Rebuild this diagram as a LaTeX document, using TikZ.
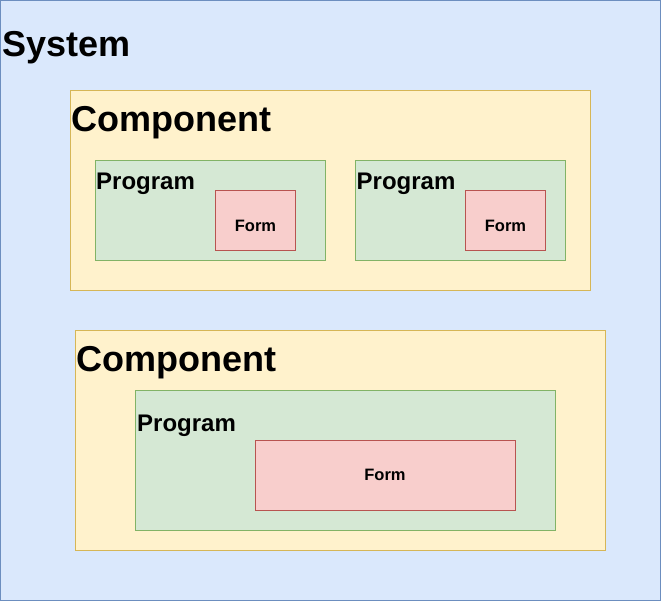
\documentclass[tikz,border=0pt]{standalone}
\usepackage{fontspec}
\setmainfont{Liberation Sans}
\definecolor{sysfill}{HTML}{DAE8FC}
\definecolor{sysline}{HTML}{6C8EBF}
\definecolor{compfill}{HTML}{FFF2CC}
\definecolor{compline}{HTML}{D6B656}
\definecolor{progfill}{HTML}{D5E8D4}
\definecolor{progline}{HTML}{82B366}
\definecolor{formfill}{HTML}{F8CECC}
\definecolor{formline}{HTML}{B85450}
\tikzset{
  box/.style={draw, line width=1pt, inner sep=0pt, outer sep=0pt, anchor=north west},
  sysbox/.style={box, fill=sysfill, draw=sysline},
  compbox/.style={box, fill=compfill, draw=compline},
  progbox/.style={box, fill=progfill, draw=progline},
  formbox/.style={box, fill=formfill, draw=formline},
  ttl/.style={inner sep=0pt, anchor=base west, font=\bfseries},
  systxt/.style={ttl, font=\fontsize{36}{40}\selectfont\bfseries},
  comptxt/.style={ttl, font=\fontsize{36}{40}\selectfont\bfseries},
  progtxt/.style={ttl, font=\fontsize{24}{28}\selectfont\bfseries},
  formtxt/.style={inner sep=0pt, anchor=base, font=\fontsize{16.5}{19}\selectfont\bfseries},
}
\begin{document}
\begin{tikzpicture}[x=1pt,y=-1pt]
\useasboundingbox (0,0) rectangle (662,602);
\node[sysbox, minimum width=660pt, minimum height=600pt] (sys) at (0.5,0.5) {};
\node[systxt] (systxt) at (2,57) {System};
% Component 1
\node[compbox, minimum width=520pt, minimum height=200pt] (c1) at (70.5,90.5) {};
\node[comptxt] (c1txt) at (71.5,131.5) {Component};
\node[progbox, minimum width=230pt, minimum height=100pt] (p1) at (95.5,160.5) {};
\node[progtxt] (p1txt) at (96,189) {Program};
\node[formbox, minimum width=80pt, minimum height=60pt] (f1) at (215.5,190.5) {};
\node[formtxt] (f1txt) at (255.5,231) {Form};
\node[progbox, minimum width=210pt, minimum height=100pt] (p2) at (355.5,160.5) {};
\node[progtxt] (p2txt) at (356.5,189) {Program};
\node[formbox, minimum width=80pt, minimum height=60pt] (f2) at (465.5,190.5) {};
\node[formtxt] (f2txt) at (505.5,231) {Form};
% Component 2
\node[compbox, minimum width=530pt, minimum height=220pt] (c2) at (75.5,330.5) {};
\node[comptxt] (c2txt) at (76.5,371.5) {Component};
\node[progbox, minimum width=420pt, minimum height=140pt] (p3) at (135.5,390.5) {};
\node[progtxt] (p3txt) at (137,431) {Program};
\node[formbox, minimum width=260pt, minimum height=70pt] (f3) at (255.5,440.5) {};
\node[formtxt] (f3txt) at (385,480.5) {Form};
\end{tikzpicture}
\end{document}
